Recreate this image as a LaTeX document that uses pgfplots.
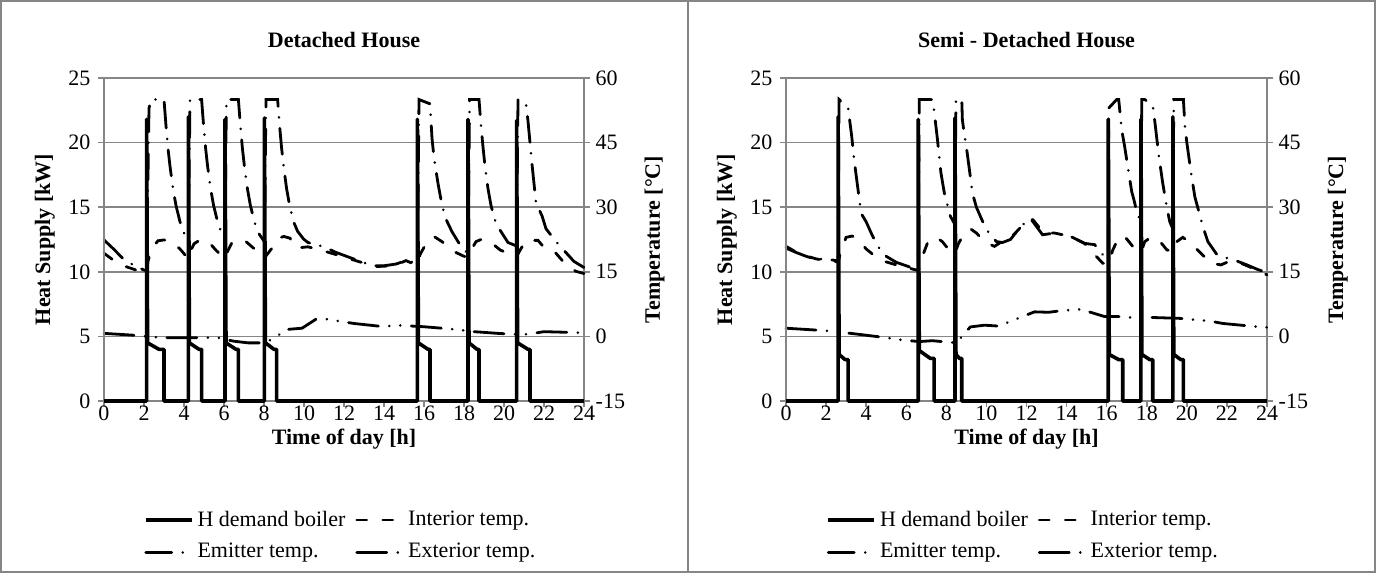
\documentclass[border=0pt]{standalone}
\usepackage{fontspec}
\setmainfont{Liberation Serif}
\usepackage{pgfplots}
\usepackage{pgfplotstable}
\pgfplotsset{compat=1.18}

\definecolor{axgray}{HTML}{868686}

% ---------- Detached house ----------
\pgfplotstableread{
t v
0 0
2.13 0
2.13 21.8
2.18 4.5
2.75 4.0
3.0 4.0
3.0 0
4.22 0
4.22 22.0
4.27 4.5
4.75 4.0
4.88 4.0
4.88 0
6.05 0
6.05 21.8
6.10 4.5
6.6 4.0
6.72 4.0
6.72 0
8.02 0
8.02 21.9
8.07 4.5
8.5 4.0
8.63 4.0
8.63 0
15.67 0
15.67 21.8
15.72 4.5
16.2 4.0
16.3 4.0
16.3 0
18.2 0
18.2 21.8
18.25 4.5
18.65 4.0
18.75 4.0
18.75 0
20.63 0
20.63 21.7
20.68 4.5
21.2 4.0
21.3 4.0
21.3 0
24 0
}\LH

\pgfplotstableread{
t v
0 19.3
0.5 17.6
1.1 16.2
1.8 15.1
2.13 15.0
2.2 17.5
2.4 20.5
2.7 22.2
3.0 22.4
3.4 22.0
3.8 20.3
4.22 18.0
4.3 19.5
4.5 21.5
4.8 22.4
5.2 22.1
5.6 20.0
6.05 18.0
6.15 19.5
6.4 21.8
6.7 22.4
7.1 22.0
7.6 20.0
8.02 18.2
8.4 20.5
8.7 22.8
9.0 23.2
9.3 22.8
9.6 20.5
10.2 20.8
10.8 20.1
11.6 19.0
12.3 18.0
13.0 17.0
13.5 16.2
14.0 16.3
14.6 16.6
15.1 17.6
15.4 17.0
15.67 16.5
15.8 19.0
16.1 21.5
16.5 23.2
16.9 22.0
17.5 19.7
18.0 18.6
18.2 18.4
18.35 20.0
18.6 22.0
18.9 22.6
19.3 22.0
19.8 20.1
20.2 19.2
20.63 18.5
20.8 20.0
21.1 22.3
21.7 22.3
22.1 20.1
22.6 19.3
23.1 16.6
23.6 15.1
24 14.6
}\LI

\pgfplotstableread{
t v
0 22.4
0.5 20.2
1.0 17.8
1.5 16.5
2.0 15.4
2.13 15.3
2.25 53.0
2.35 55.0
3.0 55.0
3.1 48.9
3.2 43.7
3.3 39.5
3.45 34.3
3.6 30.4
3.8 26.6
4.0 24.0
4.22 22.8
4.3 55.0
4.88 55.0
4.98 48.9
5.08 43.7
5.18 39.5
5.33 34.3
5.48 30.4
5.68 26.6
5.88 24.0
6.05 22.6
6.12 55.0
6.72 55.0
6.82 48.9
6.92 43.7
7.02 39.5
7.17 34.3
7.32 30.4
7.52 26.6
7.72 24.0
8.02 22.0
8.1 55.0
8.68 55.0
8.78 48.9
8.88 43.7
8.98 39.5
9.13 34.3
9.28 30.4
9.48 26.6
9.68 24.4
9.98 22.6
10.2 21.8
11.0 20.8
11.6 19.5
12.3 18.3
13.0 17.1
13.5 16.4
14.0 16.4
14.6 16.8
15.1 17.6
15.67 17.0
15.75 55.0
16.3 54.0
16.4 46.0
16.5 41.5
16.7 35.5
16.9 30.5
17.1 27.2
17.4 24.3
17.9 20.5
18.2 19.3
18.28 55.0
18.75 55.0
18.85 49.0
18.95 44.0
19.05 39.5
19.2 34.3
19.35 30.4
19.55 27.0
19.8 24.7
20.2 21.8
20.63 21.0
20.7 55.0
21.1 54.0
21.2 50.0
21.4 40.0
21.6 31.0
21.9 28.0
22.1 25.0
22.6 22.0
23.05 19.7
23.5 17.4
24 16.0
}\LE

\pgfplotstableread{
t v
0 0.7
1.4 0.3
2.9 -0.3
4.8 -0.3
5.7 -0.3
6.47 -1.1
7.2 -1.5
7.97 -1.5
8.5 -0.5
9.1 1.6
9.9 1.9
10.6 4.0
11.0 4.1
12.5 3.0
13.2 2.65
14.0 2.25
14.6 2.6
15.97 2.25
16.9 1.9
17.6 1.6
18.5 1.1
19.7 0.7
20.47 0.5
21.2 0.5
22.0 1.1
23.55 0.9
24 0.8
}\LX

% ---------- Semi-detached house ----------
\pgfplotstableread{
t v
0 0
2.6 0
2.6 22.0
2.65 3.6
2.95 3.2
3.1 3.2
3.1 0
6.6 0
6.6 21.8
6.65 3.9
7.2 3.3
7.39 3.3
7.39 0
8.43 0
8.43 21.9
8.48 3.6
8.65 3.3
8.77 3.3
8.77 0
16.08 0
16.08 21.8
16.13 3.6
16.6 3.2
16.8 3.2
16.8 0
17.71 0
17.71 21.8
17.76 3.6
18.15 3.2
18.3 3.2
18.3 0
19.3 0
19.3 22.0
19.35 3.6
19.7 3.2
19.83 3.2
19.83 0
24 0
}\RH

\pgfplotstableread{
t v
0 20.9
0.5 19.6
1.0 18.7
1.5 18.0
2.0 17.6
2.6 17.3
2.75 20.0
3.0 23.0
3.3 23.3
3.6 22.5
4.0 20.3
4.45 18.6
5.0 17.3
5.5 16.6
6.0 16.0
6.6 15.3
6.8 18.5
7.1 22.2
7.5 23.0
7.8 22.0
8.2 19.7
8.43 19.2
8.6 21.5
8.85 23.6
9.2 25.0
9.5 24.0
9.9 22.0
10.4 20.9
10.7 21.8
11.0 21.8
11.5 24.3
12.0 26.8
12.3 27.2
12.6 25.5
12.9 24.0
13.4 24.0
14.2 23.2
14.9 21.6
15.4 19.0
15.8 17.0
16.08 16.8
16.3 20.0
16.6 23.0
16.9 23.2
17.3 20.9
17.71 19.5
17.9 22.0
18.2 23.0
18.6 22.4
19.0 20.1
19.3 19.6
19.5 22.0
19.8 23.0
20.2 21.6
20.7 19.3
21.2 17.0
21.7 16.6
22.2 17.6
22.8 16.8
23.4 15.6
24 14.3
}\RI

\pgfplotstableread{
t v
0 20.5
0.5 19.5
1.0 18.6
1.5 17.9
2.0 18.0
2.6 17.5
2.65 55.0
3.1 53.0
3.28 46.4
3.4 41.0
3.68 31.0
3.77 28.4
4.0 26.6
4.3 23.5
4.6 20.8
5.0 18.6
5.5 17.2
6.0 16.4
6.6 15.4
6.65 55.0
7.3 55.0
7.4 52.0
7.55 46.0
7.73 38.0
7.9 33.3
8.2 27.9
8.43 26.0
8.48 55.0
8.77 55.0
8.8 50.3
8.9 46.8
9.0 44.0
9.2 37.0
9.3 33.3
9.5 30.0
9.8 26.8
10.1 24.2
10.5 22.0
10.8 21.8
11.2 22.5
11.7 25.5
12.2 27.4
12.5 25.5
12.8 23.6
13.4 24.0
14.2 23.2
14.9 21.6
15.4 21.3
15.8 19.0
16.08 18.5
16.1 53.0
16.5 55.0
16.6 55.0
16.75 48.0
16.9 44.0
17.0 41.0
17.25 33.6
17.35 31.9
17.5 29.0
17.71 26.5
17.75 55.0
17.9 55.0
18.3 53.6
18.4 50.0
18.6 42.0
18.8 35.5
19.0 30.0
19.15 26.6
19.3 25.0
19.35 55.0
19.83 55.0
19.9 49.0
20.0 45.0
20.2 38.3
20.4 32.4
20.8 25.5
21.05 22.0
21.5 19.0
22.0 18.2
22.5 17.5
23.0 16.6
23.5 15.6
24 14.8
}\RE

\pgfplotstableread{
t v
0 1.9
1.4 1.5
2.3 1.2
3.6 0.5
5.0 -0.3
5.8 -0.84
6.65 -1.2
7.3 -1.0
8.5 -1.5
9.2 2.2
9.9 2.6
10.6 2.4
12.4 5.7
13.1 5.6
13.8 6.0
14.7 6.3
15.9 4.6
16.7 4.6
17.4 4.3
18.2 4.4
19.6 4.2
20.3 3.9
21.1 3.6
21.8 3.0
23.5 2.25
24 2.1
}\RX

\pgfplotsset{
  panel/.style={scale only axis, width=240pt, height=161.5pt,
    xmin=0, xmax=24, clip=false,
    /pgf/number format/assume math mode=true,
    tick align=outside, major tick length=3pt,
    every tick/.style={axgray, line width=0.75pt},
    axis line style={axgray, line width=0.75pt}},
  hs/.style={black, line width=1.8pt, line join=round},
  intl/.style={black, line width=1.4pt, line cap=round, dash pattern=on 5pt off 8pt},
  emil/.style={black, line width=1.4pt, line cap=round, dash pattern=on 13pt off 5.5pt on 0.01pt off 5.5pt},
  extl/.style={black, line width=1.4pt, line cap=round, dash pattern=on 15pt off 5.5pt on 0.01pt off 5.5pt on 0.01pt off 5.5pt},
  tempaxis/.style={panel, ymin=-15, ymax=60, ytick={-15,0,...,60},
    axis y line*=right, axis x line=none, xtick=\empty,
    ymajorgrids, grid style={axgray, line width=0.75pt},
    yticklabel style={anchor=west, xshift=-1pt},
    ylabel={\textbf{Temperature [°C]}},
    ylabel style={at={(axis description cs:1.147,0.5)}, anchor=center},
    legend columns=2, legend cell align=left,
    legend image code/.code={\draw[##1] (0pt,0pt) -- (23pt,0pt);},
    legend style={at={(0.495,-0.418)}, anchor=center, draw=none, fill=none,
      row sep=3pt,
      /tikz/every odd column/.append style={column sep=0pt},
      /tikz/every even column/.append style={column sep=3pt}}},
  heataxis/.style={panel, ymin=0, ymax=25, ytick={0,5,...,25},
    xtick={0,2,...,24},
    axis y line*=left, axis x line*=bottom,
    yticklabel style={anchor=east, xshift=0pt},
    xticklabel style={anchor=base, yshift=-7pt},
    ylabel={\textbf{Heat Supply [kW]}},
    ylabel style={at={(axis description cs:-0.123,0.5)}, anchor=center},
    xlabel={\textbf{Time of day [h]}},
    xlabel style={at={(axis description cs:0.5,0)}, anchor=base, yshift=-22pt},
    title style={at={(0.5,1)}, anchor=base, yshift=9pt}},
}

\begin{document}
\fontsize{11}{13.2}\selectfont
\begin{tikzpicture}
\useasboundingbox (0,0) rectangle (688pt,286.5pt);
\draw[axgray, line width=0.75pt] (0.4pt,0.4pt) rectangle (687.6pt,286.1pt);
\draw[axgray, line width=0.75pt] (344pt,0pt) -- (344pt,286.5pt);

% left panel
\begin{axis}[tempaxis, at={(52pt,86pt)}, anchor=south west]
\addlegendimage{hs}
\addlegendentry{H demand boiler}
\addplot[intl] table[x=t,y=v] {\LI};
\addlegendentry{Interior temp.}
\addplot[emil] table[x=t,y=v] {\LE};
\addlegendentry{Emitter temp.}
\addplot[extl] table[x=t,y=v] {\LX};
\addlegendentry{Exterior temp.}
\end{axis}
\begin{axis}[heataxis, at={(52pt,86pt)}, anchor=south west,
  title={\textbf{Detached House}}]
\addplot[hs] table[x=t,y=v] {\LH};
\end{axis}

% right panel
\begin{axis}[tempaxis, at={(393pt,86pt)}, anchor=south west, width=240.5pt]
\addlegendimage{hs}
\addlegendentry{H demand boiler}
\addplot[intl] table[x=t,y=v] {\RI};
\addlegendentry{Interior temp.}
\addplot[emil] table[x=t,y=v] {\RE};
\addlegendentry{Emitter temp.}
\addplot[extl] table[x=t,y=v] {\RX};
\addlegendentry{Exterior temp.}
\end{axis}
\begin{axis}[heataxis, at={(393pt,86pt)}, anchor=south west, width=240.5pt,
  title={\textbf{Semi - Detached House}}]
\addplot[hs] table[x=t,y=v] {\RH};
\end{axis}
\end{tikzpicture}
\end{document}
